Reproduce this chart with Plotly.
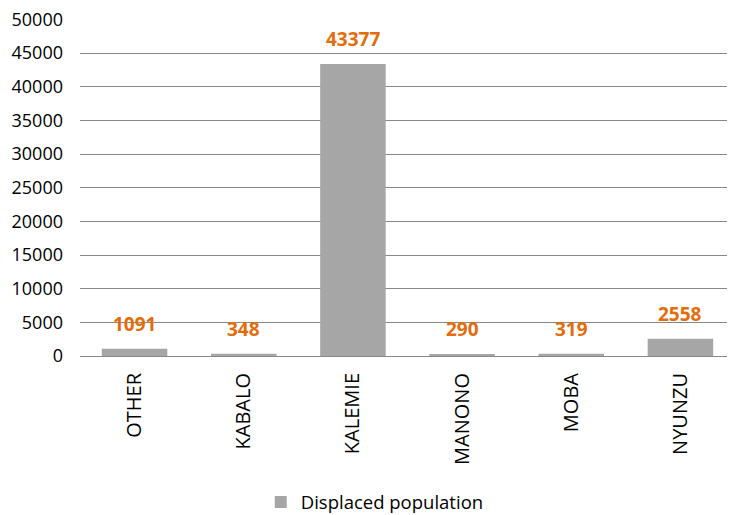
import plotly.graph_objects as go

categories = ["OTHER", "KABALO", "KALEMIE", "MANONO", "MOBA", "NYUNZU"]
values = [1091, 348, 43377, 290, 319, 2558]
series_name = "Displaced population"

FONT = "Open Sans"

fig = go.Figure()
fig.add_trace(go.Bar(
    x=categories, y=values, name=series_name,
    marker=dict(color="#A6A6A6", line=dict(width=0)),
    showlegend=True,
))
for c, v in zip(categories, values):
    fig.add_annotation(x=c, y=v, text=f"<b>{v}</b>", showarrow=False,
                       yanchor="bottom", yshift=10,
                       font=dict(color="#E46C0A", size=19, family=FONT))

fig.update_layout(
    width=735, height=515,
    margin=dict(l=72, r=8, t=11, b=167, autoexpand=False),
    paper_bgcolor="white", plot_bgcolor="white",
    bargap=0.4,
    font=dict(family=FONT, color="#000000", size=18),
    showlegend=True,
    legend=dict(orientation="h", x=0.45, xanchor="center", y=-0.435, yanchor="middle",
                font=dict(size=18.5), itemwidth=30),
    xaxis=dict(tickangle=-90, tickfont=dict(size=20), showline=True,
               linecolor="#888888", linewidth=1, ticks="", automargin=False,
               ticklabelstandoff=8),
    yaxis=dict(range=[0, 50080], dtick=5000, showgrid=True, gridcolor="#888888",
               gridwidth=1, zeroline=False, tickfont=dict(size=18),
               ticks="", ticklen=0, tickformat="d", automargin=False,
               ticklabelstandoff=16, ticklabeloverflow="allow"),
)
fig.write_html("out.html")
